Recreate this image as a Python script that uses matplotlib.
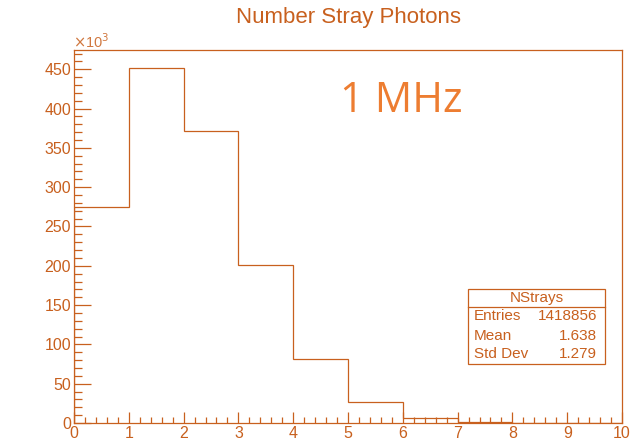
import matplotlib
matplotlib.use("Agg")
import matplotlib.pyplot as plt
from matplotlib.ticker import MultipleLocator, FuncFormatter
from matplotlib.patches import Rectangle

# Data
bin_edges = [0, 1, 2, 3, 4, 5, 6, 7, 8, 9, 10]
counts = [274800, 451000, 371900, 201000, 81400, 26300, 6400, 1200, 0, 0]
x_ticks = [0, 1, 2, 3, 4, 5, 6, 7, 8, 9, 10]
y_ticks = [0, 50000, 100000, 150000, 200000, 250000, 300000, 350000, 400000, 450000]
title = "Number Stray Photons"
stats_name = "NStrays"
stats_rows = [("Entries", "1418856"), ("Mean", "1.638"), ("Std Dev", "1.279")]
annotation = "1 MHz"

dark = "#C8601E"
line = "#C8601E"
bright = "#ED7D31"

plt.rcParams['font.family'] = ['Liberation Sans', 'DejaVu Sans']

fig = plt.figure(figsize=(6.33, 4.41), dpi=100)
ax = fig.add_axes([74/633, 18/441, 548/633, 373/441])

ax.stairs(counts, bin_edges, baseline=0, color=line, linewidth=0.9)
ax.set_xlim(0, 10)
ax.set_ylim(0, 474500)

for s in ax.spines.values():
    s.set_color(line)
    s.set_linewidth(0.9)

ax.set_xticks(x_ticks)
ax.xaxis.set_minor_locator(MultipleLocator(0.2))
ax.set_yticks(y_ticks)
ax.yaxis.set_minor_locator(MultipleLocator(10000))
ax.yaxis.set_major_formatter(FuncFormatter(lambda v, p: f"{int(round(v/1000))}"))

ax.tick_params(axis='x', which='major', direction='in', length=8, width=0.9,
               color=line, labelcolor=dark, labelsize=11.5, pad=2)
ax.tick_params(axis='x', which='minor', direction='in', length=4.3, width=0.9, color=line)
ax.tick_params(axis='y', which='major', direction='in', length=12.2, width=0.9,
               color=line, labelcolor=dark, labelsize=11.5, pad=2)
ax.tick_params(axis='y', which='minor', direction='in', length=5.8, width=0.9, color=line)

fig.text(73/633, 1 - 48/441, r"$\times$10$^{3}$", color=dark, fontsize=10.5,
         ha='left', va='baseline', alpha=0.85)

fig.text(349/633, 1 - 18/441, title, color=dark, fontsize=16, ha='center', va='center')

fig.text(401/633, 1 - 101/441, annotation, color=bright, fontsize=30,
         family=['Open Sans', 'DejaVu Sans'], ha='center', va='center')

# stats box
bx0, bx1 = 468/633, 605/633
by0, by1 = 1 - 364/441, 1 - 289/441
hdr = 1 - 307/441
fig.add_artist(Rectangle((bx0, by0), bx1 - bx0, by1 - by0, transform=fig.transFigure,
                         facecolor='white', edgecolor=line, linewidth=0.9))
fig.add_artist(plt.Line2D([bx0, bx1], [hdr, hdr], transform=fig.transFigure,
                          color=line, linewidth=0.9))
fig.text((bx0 + bx1) / 2, (hdr + by1) / 2, stats_name, color=dark, fontsize=11,
         ha='center', va='center')
row_y = [316.5, 335.5, 353.5]
for (k, v), yy in zip(stats_rows, row_y):
    fig.text(474/633, 1 - yy/441, k, color=dark, fontsize=11, ha='left', va='center')
    fig.text(597/633, 1 - yy/441, v, color=dark, fontsize=11, ha='right', va='center')

fig.savefig("out.png", dpi=100)
